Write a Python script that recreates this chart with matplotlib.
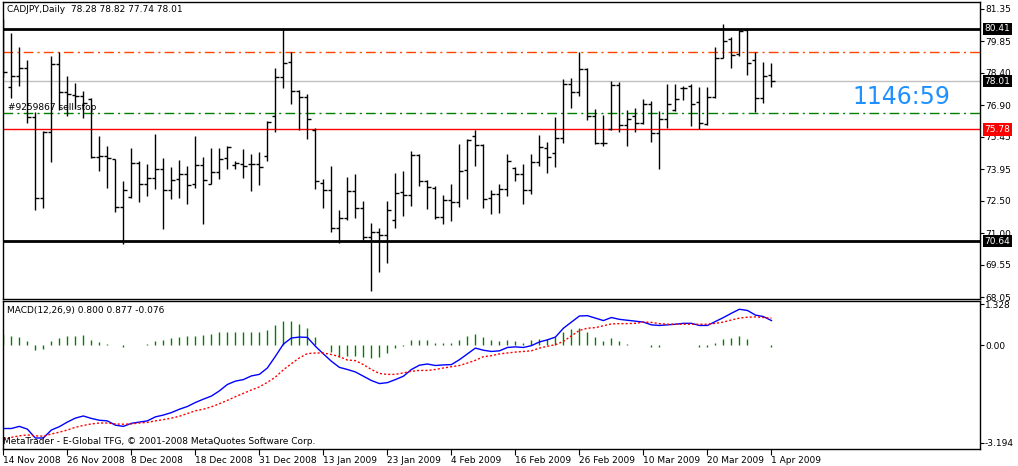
import matplotlib
matplotlib.use("Agg")
import matplotlib.pyplot as plt
import numpy as np

# OHLC harian CADJPY
opens = [80.00, 77.74, 78.23, 78.61, 76.34, 72.61, 75.68, 78.80, 77.49, 77.37,
         77.34, 77.18, 74.50, 74.54, 74.42, 72.19, 72.68, 74.25, 73.27, 73.53,
         73.94, 73.01, 73.48, 73.73, 73.25, 74.14, 73.25, 73.84, 74.45, 74.16,
         74.17, 74.17, 74.19, 74.54, 76.40, 78.20, 78.87, 77.54, 77.28, 75.76,
         73.30, 73.00, 71.22, 71.68, 72.94, 72.15, 70.81, 71.07, 70.90, 71.61,
         72.88, 72.74, 74.59, 73.41, 73.07, 71.75, 72.55, 72.42, 73.90, 75.50,
         75.05, 72.61, 72.79, 73.04, 74.00, 73.71, 72.99, 74.28, 74.93, 74.70,
         75.37, 77.88, 77.52, 78.57, 76.39, 75.16, 75.79, 77.81, 75.99, 76.40,
         76.06, 76.94, 75.60, 76.25, 76.66, 77.71, 77.77, 77.05, 76.05, 77.29,
         79.09, 79.93, 79.24, 80.36, 79.00, 77.23, 78.28]
highs = [80.87, 80.21, 79.57, 78.97, 76.59, 75.69, 79.17, 79.35, 78.24, 77.92,
         77.55, 77.21, 75.48, 75.02, 74.43, 73.41, 74.93, 74.33, 74.19, 75.57,
         74.45, 74.04, 74.36, 74.10, 75.48, 74.50, 74.93, 74.93, 75.00, 74.34,
         74.88, 74.65, 74.76, 76.17, 78.63, 80.41, 79.33, 77.58, 77.40, 75.83,
         73.48, 74.10, 72.07, 73.57, 73.71, 72.48, 71.45, 71.22, 72.48, 73.76,
         73.87, 74.77, 74.63, 73.45, 73.16, 72.75, 73.27, 75.11, 75.34, 75.74,
         75.09, 72.99, 73.25, 74.66, 74.04, 74.19, 74.63, 75.53, 75.20, 76.36,
         78.11, 78.15, 79.33, 78.60, 76.71, 76.43, 78.01, 77.95, 76.66, 76.77,
         77.18, 77.09, 76.62, 77.88, 77.88, 77.78, 77.88, 77.75, 77.74, 79.58,
         80.64, 80.04, 80.39, 80.36, 79.33, 78.89, 78.82]
lows = [78.21, 77.21, 77.77, 76.09, 72.08, 72.18, 74.30, 76.68, 76.42, 76.71,
        76.32, 74.45, 73.88, 73.10, 71.99, 70.52, 72.61, 72.45, 72.71, 73.05,
        71.21, 72.59, 72.64, 72.33, 73.07, 71.44, 73.25, 73.48, 73.96, 73.94,
        73.56, 72.96, 73.24, 74.34, 75.65, 77.71, 76.97, 75.76, 75.36, 73.05,
        72.18, 71.07, 70.56, 71.62, 71.72, 70.69, 68.35, 69.23, 69.63, 71.25,
        71.81, 72.27, 73.19, 72.10, 71.64, 71.44, 71.58, 72.19, 72.59, 74.11,
        72.15, 71.90, 71.95, 72.73, 73.42, 72.36, 72.82, 74.11, 73.79, 74.07,
        75.17, 76.78, 77.34, 76.23, 75.13, 75.03, 75.76, 75.68, 75.03, 75.68,
        76.03, 75.22, 73.97, 75.86, 76.63, 77.14, 75.94, 75.82, 75.99, 77.21,
        79.06, 78.60, 79.14, 78.31, 76.57, 77.02, 77.74]
closes = [78.41, 78.23, 78.61, 76.34, 72.61, 75.68, 78.80, 77.49, 77.43, 77.34,
          76.98, 74.50, 74.54, 74.45, 72.19, 72.99, 74.25, 73.27, 73.53, 73.94,
          73.01, 73.45, 73.73, 73.22, 74.14, 73.45, 73.84, 74.42, 74.96, 74.23,
          74.10, 74.17, 74.03, 76.12, 78.20, 78.83, 77.54, 77.28, 76.25, 73.42,
          73.00, 71.22, 71.68, 72.94, 72.15, 70.81, 71.07, 70.90, 72.05, 72.84,
          72.74, 74.59, 73.41, 73.11, 71.75, 72.55, 72.45, 73.87, 75.31, 75.05,
          72.58, 72.79, 73.04, 74.34, 73.73, 72.99, 74.28, 74.96, 74.50, 75.37,
          77.88, 77.52, 78.57, 76.39, 75.16, 75.14, 77.81, 75.99, 76.25, 76.06,
          76.94, 75.60, 76.25, 76.94, 77.17, 77.69, 76.97, 76.06, 77.29, 79.09,
          79.86, 79.20, 80.32, 78.83, 77.23, 78.23, 78.01]

# MACD(12,26,9): garis utama, sinyal dan histogram
macd_main = [-2.73, -2.73, -2.66, -2.75, -3.04, -3.04, -2.78, -2.67, -2.52, -2.39,
             -2.32, -2.40, -2.46, -2.48, -2.62, -2.66, -2.56, -2.52, -2.48, -2.35,
             -2.29, -2.21, -2.10, -2.01, -1.88, -1.77, -1.67, -1.50, -1.29, -1.18,
             -1.13, -1.01, -0.96, -0.75, -0.37, 0.03, 0.23, 0.26, 0.25, -0.04,
             -0.29, -0.53, -0.73, -0.80, -0.88, -1.02, -1.16, -1.26, -1.23, -1.13,
             -1.02, -0.80, -0.66, -0.62, -0.67, -0.65, -0.64, -0.48, -0.29, -0.10,
             -0.17, -0.21, -0.19, -0.08, -0.06, -0.08, -0.02, 0.10, 0.17, 0.26,
             0.55, 0.75, 0.95, 0.96, 0.88, 0.80, 0.90, 0.84, 0.81, 0.78,
             0.75, 0.66, 0.64, 0.66, 0.68, 0.71, 0.71, 0.64, 0.64, 0.77,
             0.90, 1.04, 1.17, 1.13, 0.98, 0.93, 0.80]
macd_signal = [-3.10, -3.02, -2.97, -2.94, -2.97, -2.98, -2.91, -2.85, -2.78, -2.69,
               -2.63, -2.58, -2.55, -2.55, -2.58, -2.59, -2.58, -2.55, -2.53, -2.48,
               -2.44, -2.39, -2.33, -2.24, -2.15, -2.10, -2.02, -1.92, -1.81, -1.69,
               -1.58, -1.47, -1.37, -1.22, -1.05, -0.81, -0.61, -0.42, -0.28, -0.26,
               -0.26, -0.31, -0.38, -0.49, -0.51, -0.64, -0.80, -0.93, -0.96, -0.96,
               -0.91, -0.86, -0.83, -0.83, -0.80, -0.75, -0.71, -0.67, -0.59, -0.50,
               -0.38, -0.35, -0.29, -0.26, -0.23, -0.21, -0.19, -0.10, -0.04, 0.01,
               0.12, 0.30, 0.48, 0.55, 0.57, 0.63, 0.69, 0.70, 0.70, 0.71,
               0.75, 0.74, 0.70, 0.68, 0.68, 0.68, 0.68, 0.68, 0.68, 0.71,
               0.75, 0.82, 0.88, 0.91, 0.92, 0.90, 0.88]
macd_hist = [0.37, 0.28, 0.26, 0.12, -0.17, -0.12, 0.12, 0.23, 0.28, 0.31,
             0.34, 0.17, 0.10, 0.04, 0.01, -0.08, 0.00, 0.01, 0.03, 0.12,
             0.15, 0.23, 0.25, 0.28, 0.31, 0.34, 0.36, 0.41, 0.44, 0.41,
             0.41, 0.44, 0.44, 0.48, 0.66, 0.79, 0.77, 0.69, 0.55, 0.25,
             0.01, -0.23, -0.40, -0.35, -0.37, -0.40, -0.42, -0.40, -0.26, -0.10,
             -0.02, 0.15, 0.17, 0.17, 0.06, 0.06, 0.06, 0.17, 0.30, 0.37,
             0.25, 0.15, 0.12, 0.17, 0.12, 0.06, 0.15, 0.21, 0.21, 0.25,
             0.44, 0.51, 0.57, 0.44, 0.25, 0.14, 0.22, 0.12, 0.04, -0.01,
             0.00, -0.05, -0.08, 0.01, 0.01, 0.01, 0.00, -0.08, -0.05, 0.06,
             0.19, 0.23, 0.28, 0.19, 0.01, 0.01, -0.08]

# level garis horizontal
level_atas = 80.41
level_bawah = 70.64
level_oranye = 79.33
level_hijau = 76.56
level_merah = 75.78
harga_akhir = 78.01

harga_ticks = [81.35, 79.85, 78.40, 76.90, 75.45, 73.95, 72.50, 71.00, 69.55, 68.05]
macd_ticks = [1.328, 0.0, -3.194]
macd_tick_labels = ["1.328", "0.00", "-3.194"]
tanggal_labels = ["14 Nov 2008", "26 Nov 2008", "8 Dec 2008", "18 Dec 2008",
                  "31 Dec 2008", "13 Jan 2009", "23 Jan 2009", "4 Feb 2009",
                  "16 Feb 2009", "26 Feb 2009", "10 Mar 2009", "20 Mar 2009",
                  "1 Apr 2009"]

W, H = 1018, 466
FS = 6.5
plt.rcParams['font.family'] = ['DejaVu Sans']


def kotak(l, t, r, b):
    return [l / W, 1 - b / H, (r - l) / W, (b - t) / H]


fig = plt.figure(figsize=(W / 100, H / 100), dpi=100)
ax = fig.add_axes(kotak(3, 2, 979.5, 299))
ax2 = fig.add_axes(kotak(3, 301, 979.5, 449), sharex=ax)

x = np.arange(len(closes))

# bar OHLC
ax.vlines(x, lows, highs, color="black", lw=1.0, zorder=3)
ax.hlines(opens, x - 0.4, x, color="black", lw=1.0, zorder=3)
ax.hlines(closes, x, x + 0.4, color="black", lw=1.0, zorder=3)

# garis level
ax.axhline(level_atas, color="black", lw=2.0, zorder=2)
ax.axhline(level_bawah, color="black", lw=2.0, zorder=2)
ax.axhline(level_oranye, color="#ff4500", lw=1.0, ls=(0, (7, 3, 1.5, 3)), zorder=2)
ax.axhline(level_hijau, color="#008000", lw=1.0, ls=(0, (7, 3, 1.5, 3)), zorder=2)
ax.axhline(level_merah, color="#ff0000", lw=1.0, zorder=2)
ax.axhline(harga_akhir, color="#c0c0c0", lw=1.0, zorder=1)

ax.set_xlim(-0.04, 122.0)
ax.set_ylim(67.97, 81.65)
ax.yaxis.tick_right()
ax.set_yticks(harga_ticks)
ax.set_yticklabels([f"{v:.2f}" for v in harga_ticks])
ax.tick_params(axis="y", direction="out", length=3, width=0.8, labelsize=FS, pad=1)
ax.tick_params(axis="x", bottom=False, labelbottom=False)

# label harga berwarna di sumbu kanan
for nilai, warna in [(level_atas, "black"), (harga_akhir, "black"),
                     (level_merah, "#ff0000"), (level_bawah, "black")]:
    ax.annotate(f"{nilai:.2f}", xy=(1, nilai), xycoords=("axes fraction", "data"),
                xytext=(5, 0), textcoords="offset pixels", ha="left", va="center",
                color="white", fontsize=FS, zorder=5,
                bbox=dict(boxstyle="square,pad=0.2", fc=warna, ec="none"))

# panel MACD
ax2.vlines(x, 0, macd_hist, color="#008000", lw=1.0)
ax2.plot(x, macd_main, color="#0000ff", lw=1.0)
ax2.plot(x, macd_signal, color="#ff0000", lw=1.0, ls=(0, (1.5, 1.5)))
ax2.set_ylim(-3.40, 1.44)
ax2.yaxis.tick_right()
ax2.set_yticks(macd_ticks)
ax2.set_yticklabels(macd_tick_labels)
ax2.tick_params(axis="y", direction="out", length=3, width=0.8, labelsize=FS, pad=1)
ax2.set_xticks(x[::8])
ax2.set_xticklabels(tanggal_labels, ha="left")
ax2.tick_params(axis="x", direction="out", length=4, width=0.8, labelsize=FS, pad=1)

for a in (ax, ax2):
    for s in a.spines.values():
        s.set_linewidth(1.0)

# teks di atas grafik
fig.text(7 / W, 1 - 10 / H, "CADJPY,Daily  78.28 78.82 77.74 78.01",
         fontsize=FS, va="center", ha="left")
fig.text(8 / W, 1 - 107 / H, "#9259867 sell stop", fontsize=FS, va="center", ha="left")
fig.text(852 / W, 1 - 97 / H, "1146:59", fontsize=17, color="#1e90ff",
         va="center", ha="left")
fig.text(7 / W, 1 - 311 / H, "MACD(12,26,9) 0.800 0.877 -0.076",
         fontsize=FS, va="center", ha="left")
fig.text(3 / W, 1 - 441 / H,
         "MetaTrader - E-Global TFG, \u00a9 2001-2008 MetaQuotes Software Corp.",
         fontsize=FS, va="center", ha="left")

fig.savefig("out.png", dpi=100)
